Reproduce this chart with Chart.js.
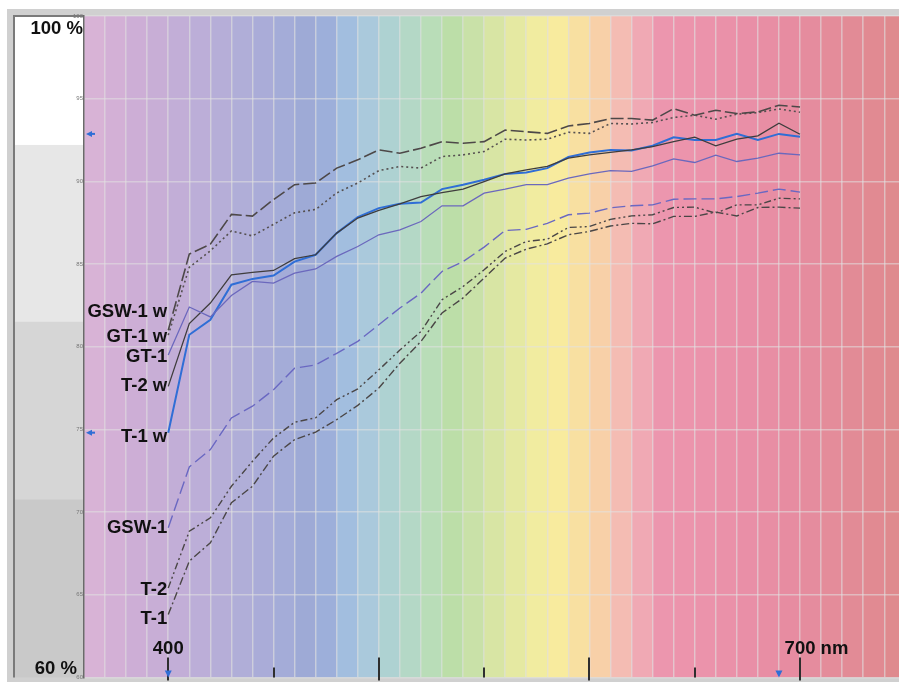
<!DOCTYPE html>
<html>
<head>
<meta charset="utf-8">
<script src="https://cdn.jsdelivr.net/npm/chart.js"></script>
<style>
  html, body { margin: 0; padding: 0; background: #fff; }
  #wrap { width: 899px; height: 682px; }
</style>
</head>
<body>
<div id="wrap"><canvas id="myChart" width="899" height="682"></canvas></div>
<script>
// wavelengths (nm) of the measured points
let wavelengths = [400, 410, 420, 430, 440, 450, 460, 470, 480, 490, 500, 510, 520, 530, 540, 550,
                   560, 570, 580, 590, 600, 610, 620, 630, 640, 650, 660, 670, 680, 690, 700];

let seriesNames = ['GSW-1 w', 'GT-1 w', 'GT-1', 'T-2 w', 'T-1 w', 'GSW-1', 'T-2', 'T-1'];

// reflectance in %
let gsw1w = [81.0, 85.6, 86.2, 88.0, 87.9, 88.9, 89.8, 89.9, 90.8, 91.3, 91.9, 91.7, 92.0, 92.4, 92.3, 92.4,
             93.1, 93.0, 92.9, 93.35, 93.5, 93.8, 93.8, 93.7, 94.4, 94.0, 94.3, 94.1, 94.2, 94.6, 94.5];
let gt1w = [80.7, 84.8, 85.8, 87.0, 86.7, 87.4, 88.1, 88.3, 89.3, 89.9, 90.65, 90.9, 90.8, 91.5, 91.6, 91.8,
            92.55, 92.5, 92.55, 92.97, 92.9, 93.5, 93.47, 93.56, 93.86, 94.0, 93.76, 94.06, 94.16, 94.38, 94.18];
let gt1 = [79.5, 82.4, 81.8, 83.1, 83.95, 83.85, 84.45, 84.7, 85.46, 86.06, 86.77, 87.07, 87.57, 88.52, 88.52, 89.29,
           89.53, 89.8, 89.8, 90.2, 90.45, 90.65, 90.6, 90.94, 91.36, 91.14, 91.58, 91.2, 91.4, 91.7, 91.6];
let t2w = [77.6, 81.4, 82.64, 84.35, 84.49, 84.61, 85.32, 85.56, 86.87, 87.78, 88.24, 88.64, 89.08, 89.32, 89.53, 89.99,
           90.45, 90.7, 90.9, 91.4, 91.6, 91.75, 91.9, 92.1, 92.4, 92.67, 92.15, 92.55, 92.75, 93.52, 92.85];
let t1w = [74.8, 80.72, 81.63, 83.75, 84.1, 84.3, 85.15, 85.56, 86.87, 87.84, 88.38, 88.64, 88.72, 89.53, 89.8, 90.1,
           90.45, 90.53, 90.8, 91.47, 91.75, 91.9, 91.86, 92.15, 92.67, 92.5, 92.5, 92.87, 92.5, 92.87, 92.7];
let gsw1 = [69.05, 72.73, 73.78, 75.69, 76.4, 77.4, 78.7, 78.9, 79.6, 80.32, 81.33, 82.34, 83.24, 84.55, 85.15, 86.02,
            87.03, 87.1, 87.46, 87.98, 88.08, 88.4, 88.52, 88.58, 88.92, 88.94, 88.94, 89.08, 89.29, 89.53, 89.35];
let t2 = [65.4, 68.84, 69.65, 71.56, 73.07, 74.48, 75.43, 75.7, 76.8, 77.45, 78.6, 79.8, 80.92, 82.84, 83.64, 84.65,
          85.76, 86.36, 86.5, 87.21, 87.27, 87.7, 87.91, 87.98, 88.42, 88.44, 88.08, 88.58, 88.58, 88.98, 88.94];
let t1 = [63.8, 67.03, 68.14, 70.56, 71.56, 73.38, 74.38, 74.83, 75.59, 76.45, 77.5, 79.0, 80.32, 82.04, 82.95, 84.15,
          85.36, 85.9, 86.22, 86.77, 86.97, 87.3, 87.46, 87.43, 87.88, 87.88, 88.14, 87.91, 88.42, 88.44, 88.38];

let seriesValues = [gsw1w, gt1w, gt1, t2w, t1w, gsw1, t2, t1];

// axis / decoration values
let yTicks = [60, 65, 70, 75, 80, 85, 90, 95, 100];
let xMajorTicks = [400, 500, 600, 700];
let xMinorTicks = [450, 550, 650];
let cursorNm = [400, 690];
let bandEdges = [100, 92.2, 81.5, 70.75, 60];

// styles
let seriesStyle = [
  { color: '#4d4848', width: 1.6, dash: [13, 4], nudge: -18 },
  { color: '#555050', width: 1.6, dash: [2, 3], nudge: 2 },
  { color: '#6b68bd', width: 1.3, dash: [], nudge: 2 },
  { color: '#3f3d3d', width: 1.3, dash: [], nudge: 0 },
  { color: '#2f6ed6', width: 2, dash: [], nudge: 4 },
  { color: '#6a68c2', width: 1.4, dash: [13, 5], nudge: 0 },
  { color: '#4a4646', width: 1.4, dash: [7, 3, 2, 3, 2, 3], nudge: 2 },
  { color: '#4a4646', width: 1.4, dash: [8, 3, 2, 3], nudge: 4 }
];
let stripeColors = ['#d8b3d6', '#d3b0d6', '#cdaed6', '#c8aed6', '#c2aed7', '#bcaed8', '#b6aed8', '#b0aed8',
                    '#aaacd8', '#a4acd8', '#9eaad6', '#9dafda', '#a2bedf', '#aac9dc', '#aed2d2', '#b4d8c6',
                    '#b9ddb8', '#bcdea8', '#c9e1a8', '#d8e5a4', '#e5e9a2', '#f1eca0', '#f8eb9e', '#f8e0a1',
                    '#f8d0a8', '#f4bcb3', '#f0a9b4', '#ec96ae', '#ec94ac', '#eb93ab', '#ea91a9', '#e98fa7',
                    '#e88ea4', '#e78ca1', '#e58c9e', '#e48c9a', '#e28b96', '#e18a92', '#df8a8e'];
let bandColors = ['#ffffff', '#e7e7e7', '#d6d6d6', '#c9c9c9'];
let gridColor = 'rgba(226,226,226,0.55)';
let labelFont = 'bold 18.5px "Liberation Sans", Arial, sans-serif';

let datasets = seriesNames.map((name, i) => ({
  label: name,
  data: wavelengths.map((w, j) => ({ x: w, y: seriesValues[i][j] })),
  borderColor: seriesStyle[i].color,
  borderWidth: seriesStyle[i].width,
  borderDash: seriesStyle[i].dash,
  pointRadius: 0,
  tension: 0,
  fill: false
}));

const backdrop = {
  id: 'backdrop',
  beforeDraw(chart) {
    const ctx = chart.ctx, area = chart.chartArea;
    const xs = chart.scales.x, ys = chart.scales.y;
    ctx.save();
    ctx.fillStyle = '#ffffff';
    ctx.fillRect(0, 0, chart.width, chart.height);
    ctx.fillStyle = '#d0d0d0';
    ctx.fillRect(7, 9, chart.width - 7, chart.height - 9);
    // left grey bands
    for (let i = 0; i < bandColors.length; i++) {
      const y0 = ys.getPixelForValue(bandEdges[i]);
      const y1 = ys.getPixelForValue(bandEdges[i + 1]);
      ctx.fillStyle = bandColors[i];
      ctx.fillRect(14, y0, area.left - 14, y1 - y0);
    }
    // spectrum stripes
    stripeColors.forEach((c, i) => {
      const nm = xs.min + i * 10;
      const x0 = xs.getPixelForValue(nm);
      const x1 = Math.min(xs.getPixelForValue(nm + 10), area.right);
      ctx.fillStyle = c;
      ctx.fillRect(x0, area.top, x1 - x0, area.bottom - area.top);
    });
    ctx.strokeStyle = '#7a7a7a';
    ctx.lineWidth = 2;
    ctx.beginPath();
    ctx.moveTo(14, area.bottom);
    ctx.lineTo(14, area.top);
    ctx.lineTo(area.left, area.top);
    ctx.stroke();
    ctx.restore();
  },
  afterDatasetsDraw(chart) {
    const ctx = chart.ctx, area = chart.chartArea;
    const xs = chart.scales.x, ys = chart.scales.y;
    ctx.save();
    // bottom ticks
    ctx.strokeStyle = '#2e2e2e';
    ctx.lineWidth = 2;
    xMajorTicks.forEach(v => {
      const x = Math.round(xs.getPixelForValue(v));
      ctx.beginPath(); ctx.moveTo(x, area.bottom - 20); ctx.lineTo(x, area.bottom + 3); ctx.stroke();
    });
    xMinorTicks.forEach(v => {
      const x = Math.round(xs.getPixelForValue(v));
      ctx.beginPath(); ctx.moveTo(x, area.bottom - 10); ctx.lineTo(x, area.bottom); ctx.stroke();
    });
    // cursor markers on the T-1 w curve
    ctx.fillStyle = '#2f6ed6';
    cursorNm.forEach(nm => {
      const x = xs.getPixelForValue(nm);
      ctx.beginPath();
      ctx.moveTo(x - 3.5, area.bottom - 7); ctx.lineTo(x + 3.5, area.bottom - 7); ctx.lineTo(x, area.bottom);
      ctx.closePath(); ctx.fill();
      const y = ys.getPixelForValue(t1w[wavelengths.indexOf(nm)]);
      ctx.beginPath();
      ctx.moveTo(area.left + 2, y); ctx.lineTo(area.left + 8, y - 3); ctx.lineTo(area.left + 8, y + 3);
      ctx.closePath(); ctx.fill();
      ctx.fillRect(area.left + 7, y - 1, 4, 2);
    });
    // text
    ctx.fillStyle = '#111';
    ctx.font = labelFont;
    ctx.textBaseline = 'middle';
    ctx.textAlign = 'center';
    ctx.fillText('400', xs.getPixelForValue(400), area.bottom - 28);
    ctx.fillText('700', xs.getPixelForValue(700), area.bottom - 28);
    ctx.textAlign = 'left';
    ctx.fillText(' nm', xs.getPixelForValue(700) + ctx.measureText('700').width / 2, area.bottom - 28);
    ctx.textAlign = 'right';
    ctx.fillText('100 %', area.left - 1, ys.getPixelForValue(100) + 13);
    ctx.fillText('60 %', area.left - 7, ys.getPixelForValue(60) - 8);
    seriesNames.forEach((name, i) => {
      const y = ys.getPixelForValue(seriesValues[i][0]) + seriesStyle[i].nudge;
      ctx.fillText(name, xs.getPixelForValue(wavelengths[0]) - 1, y);
    });
    ctx.restore();
  }
};

let ctx = document.getElementById('myChart').getContext('2d');

let chart = new Chart(ctx, {
  type: 'line',
  data: { datasets: datasets },
  options: {
    responsive: false,
    animation: false,
    layout: { padding: { top: 16, bottom: 4, left: 0, right: 0 } },
    plugins: { legend: { display: false }, tooltip: { enabled: false } },
    scales: {
      x: {
        type: 'linear',
        min: 360,
        max: 747,
        afterBuildTicks: s => { s.ticks = stripeColors.map((c, i) => ({ value: 360 + i * 10 })); },
        ticks: { display: false },
        grid: { color: gridColor, lineWidth: 1.5, drawTicks: false },
        border: { display: false }
      },
      y: {
        min: 60,
        max: 100,
        afterBuildTicks: s => { s.ticks = yTicks.map(v => ({ value: v })); },
        afterFit: s => { s.width = 84; },
        ticks: { font: { size: 6 }, color: '#777', padding: 1 },
        grid: { color: gridColor, lineWidth: 1.5, drawTicks: false },
        border: { color: '#6a6a6a', width: 1.5 }
      }
    }
  },
  plugins: [backdrop]
});
</script>
</body>
</html>
